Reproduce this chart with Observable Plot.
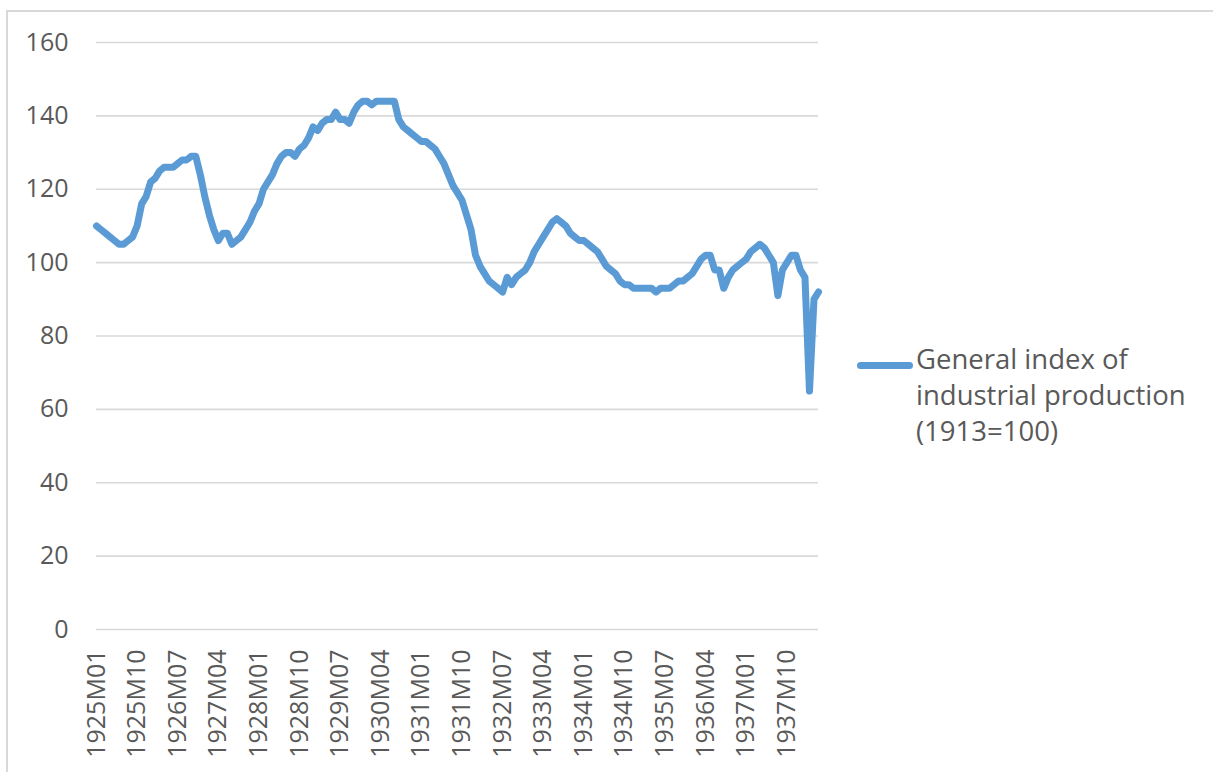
<!DOCTYPE html>
<html>
<head>
<meta charset="utf-8">
<script src="https://cdn.jsdelivr.net/npm/d3@7"></script>
<script src="https://cdn.jsdelivr.net/npm/@observablehq/plot@0.6"></script>
<style>
  html, body { margin: 0; padding: 0; background: #fff; }
  #wrap { position: relative; width: 1213px; height: 772px; overflow: hidden; font-family: "Open Sans", sans-serif; }
  #frame { position: absolute; left: 6px; top: 10px; width: 1220px; height: 800px; border-left: 2px solid #d9d9d9; border-top: 2px solid #d9d9d9; box-sizing: border-box; }
  #chart { position: absolute; left: 0; top: 0; }
  #legend { position: absolute; left: 857px; top: 341px; color: #595959; font-size: 27.5px; line-height: 36px; }
  #legend .swatch { position: absolute; left: 0; top: 20.5px; width: 56px; height: 7px; border-radius: 3.5px; background: #5b9bd5; }
  #legend .label { position: absolute; left: 59px; top: 0; white-space: nowrap; }
</style>
</head>
<body>
<div id="wrap">
  <div id="frame"></div>
  <div id="chart"></div>
  <div id="legend"><div class="swatch"></div><div class="label">General index of<br>industrial production<br>(1913=100)</div></div>
</div>
<script>
// Categories: monthly labels 1925M01 .. 1938M05
const startYear = 1925;
const monthCount = 161;
const months = [];
for (let i = 0; i < monthCount; i++) {
  const y = startYear + Math.floor(i / 12);
  const m = (i % 12) + 1;
  months.push(y + "M" + String(m).padStart(2, "0"));
}

// General index of industrial production (1913=100)
const values = [
  110, 109, 108, 107, 106, 105, 105, 106, 107, 110, 116, 118,
  122, 123, 125, 126, 126, 126, 127, 128, 128, 129, 129, 124,
  118, 113, 109, 106, 108, 108, 105, 106, 107, 109, 111, 114,
  116, 120, 122, 124, 127, 129, 130, 130, 129, 131, 132, 134,
  137, 136, 138, 139, 139, 141, 139, 139, 138, 141, 143, 144,
  144, 143, 144, 144, 144, 144, 144, 139, 137, 136, 135, 134,
  133, 133, 132, 131, 129, 127, 124, 121, 119, 117, 113, 109,
  102, 99, 97, 95, 94, 93, 92, 96, 94, 96, 97, 98,
  100, 103, 105, 107, 109, 111, 112, 111, 110, 108, 107, 106,
  106, 105, 104, 103, 101, 99, 98, 97, 95, 94, 94, 93,
  93, 93, 93, 93, 92, 93, 93, 93, 94, 95, 95, 96,
  97, 99, 101, 102, 102, 98, 98, 93, 96, 98, 99, 100,
  101, 103, 104, 105, 104, 102, 100, 91, 98, 100, 102, 102,
  98, 96, 65, 90, 92
];

// Tick labels shown on the category axis
const xTickLabels = [
  "1925M01", "1925M10", "1926M07", "1927M04", "1928M01", "1928M10",
  "1929M07", "1930M04", "1931M01", "1931M10", "1932M07", "1933M04",
  "1934M01", "1934M10", "1935M07", "1936M04", "1937M01", "1937M10"
];
const yTicks = [0, 20, 40, 60, 80, 100, 120, 140, 160];

const data = months.map((month, i) => ({month, value: values[i]}));

const chart = Plot.plot({
  width: 1213,
  height: 772,
  marginLeft: 96,
  marginRight: 395,
  marginTop: 42,
  marginBottom: 143,
  style: {fontFamily: "Open Sans, sans-serif", fontSize: "25px", color: "#595959", background: "transparent", overflow: "visible"},
  x: {type: "point", domain: months, padding: 0},
  y: {domain: [0, 160]},
  marks: [
    Plot.gridY(yTicks, {stroke: "#d9d9d9", strokeOpacity: 1, strokeWidth: 1.6}),
    Plot.axisY(yTicks, {tickSize: 0, tickPadding: 28, label: null, fontSize: 25}),
    Plot.axisX(xTickLabels, {tickSize: 0, tickPadding: 20, tickRotate: -90, label: null, fontSize: 25}),
    Plot.line(data, {x: "month", y: "value", stroke: "#5b9bd5", strokeWidth: 7, strokeLinejoin: "round", strokeLinecap: "round"})
  ]
});
document.getElementById("chart").appendChild(chart);
</script>
</body>
</html>
